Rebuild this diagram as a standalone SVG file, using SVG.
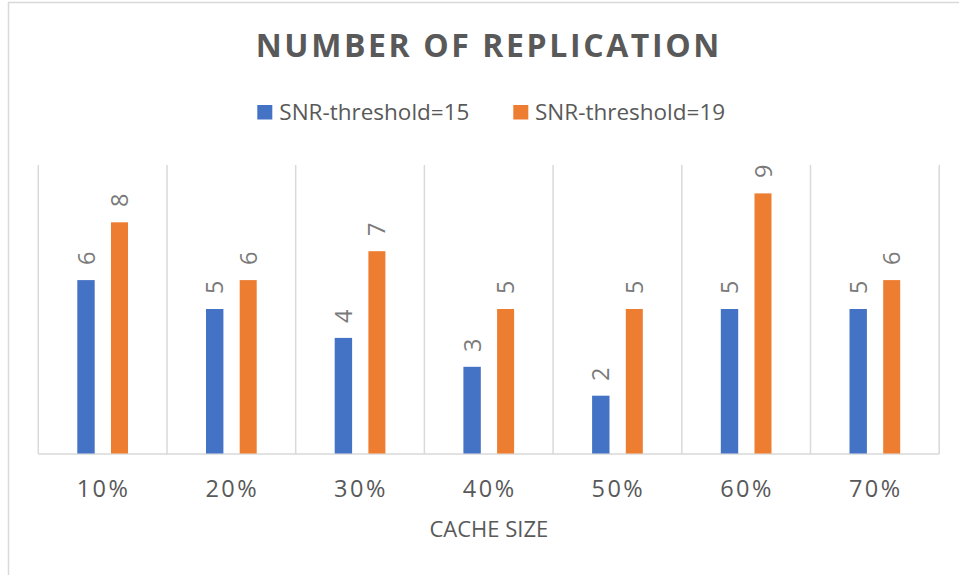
<svg xmlns="http://www.w3.org/2000/svg" width="959" height="575" viewBox="0 0 959 575">
  <style>
    .frame { fill: #ffffff; stroke: #d9d9d9; stroke-width: 1.5; }
    .grid { stroke: #d9d9d9; stroke-width: 1.5; fill: none; }
    .s15 { fill: #4472c4; }
    .s19 { fill: #ed7d31; }
    .title { font-family: "Open Sans", "Noto Sans", sans-serif; font-weight: bold; font-size: 32px; fill: #595959; letter-spacing: 2.6px; }
    .legend { font-family: "Open Sans", "Noto Sans", sans-serif; font-size: 22.5px; fill: #595959; }
    .cat { font-family: "Open Sans", "Noto Sans", sans-serif; font-size: 23.5px; fill: #595959; letter-spacing: 2.5px; }
    .axis-title { font-family: "Open Sans", "Noto Sans", sans-serif; font-size: 22px; fill: #595959; }
    .val { font-family: "Open Sans", "Noto Sans", sans-serif; font-size: 23.5px; fill: #7a7a7a; }
  </style>

  <!-- chart area -->
  <rect class="frame" x="8.5" y="2.5" width="965" height="590"/>

  <text class="title" x="488.8" y="56.7" text-anchor="middle">NUMBER OF REPLICATION</text>

  <!-- legend -->
  <g id="legend">
    <rect class="s15" x="257.3" y="105" width="15" height="14.5"/>
    <text class="legend" x="279.3" y="120">SNR-threshold=15</text>
    <rect class="s19" x="513.3" y="105" width="15" height="14.5"/>
    <text class="legend" x="535" y="120">SNR-threshold=19</text>
  </g>

  <!-- category separators and baseline -->
  <g id="gridlines">
    <path class="grid" d="M38.3 165V454 M167 165V454 M295.7 165V454 M424.4 165V454 M553.1 165V454 M681.8 165V454 M810.5 165V454 M939.2 165V454"/>
    <path class="grid" d="M38.3 454H939.2"/>
  </g>

  <!-- bars: baseline 453.5, 28.9 px per unit -->
  <g id="cat-10">
    <rect class="s15" x="77.3" y="280.1" width="17.4" height="173.4"/>
    <rect class="s19" x="111" y="222.3" width="17" height="231.2"/>
    <text class="val" transform="translate(94.5,265) rotate(-90)">6</text>
    <text class="val" transform="translate(128,207) rotate(-90)">8</text>
    <text class="cat" x="103.6" y="497.3" text-anchor="middle">10%</text>
  </g>
  <g id="cat-20">
    <rect class="s15" x="206" y="309" width="17.4" height="144.5"/>
    <rect class="s19" x="239.7" y="280.1" width="17" height="173.4"/>
    <text class="val" transform="translate(223.2,294) rotate(-90)">5</text>
    <text class="val" transform="translate(256.7,265) rotate(-90)">6</text>
    <text class="cat" x="232.3" y="497.3" text-anchor="middle">20%</text>
  </g>
  <g id="cat-30">
    <rect class="s15" x="334.7" y="337.9" width="17.4" height="115.6"/>
    <rect class="s19" x="368.4" y="251.2" width="17" height="202.3"/>
    <text class="val" transform="translate(351.9,323) rotate(-90)">4</text>
    <text class="val" transform="translate(385.4,236) rotate(-90)">7</text>
    <text class="cat" x="361" y="497.3" text-anchor="middle">30%</text>
  </g>
  <g id="cat-40">
    <rect class="s15" x="463.4" y="366.8" width="17.4" height="86.7"/>
    <rect class="s19" x="497.1" y="309" width="17" height="144.5"/>
    <text class="val" transform="translate(480.6,352) rotate(-90)">3</text>
    <text class="val" transform="translate(514.1,294) rotate(-90)">5</text>
    <text class="cat" x="489.7" y="497.3" text-anchor="middle">40%</text>
  </g>
  <g id="cat-50">
    <rect class="s15" x="592.1" y="395.7" width="17.4" height="57.8"/>
    <rect class="s19" x="625.8" y="309" width="17" height="144.5"/>
    <text class="val" transform="translate(609.3,381) rotate(-90)">2</text>
    <text class="val" transform="translate(642.8,294) rotate(-90)">5</text>
    <text class="cat" x="618.4" y="497.3" text-anchor="middle">50%</text>
  </g>
  <g id="cat-60">
    <rect class="s15" x="720.8" y="309" width="17.4" height="144.5"/>
    <rect class="s19" x="754.5" y="193.4" width="17" height="260.1"/>
    <text class="val" transform="translate(738,294) rotate(-90)">5</text>
    <text class="val" transform="translate(771.5,178) rotate(-90)">9</text>
    <text class="cat" x="747.1" y="497.3" text-anchor="middle">60%</text>
  </g>
  <g id="cat-70">
    <rect class="s15" x="849.5" y="309" width="17.4" height="144.5"/>
    <rect class="s19" x="883.2" y="280.1" width="17" height="173.4"/>
    <text class="val" transform="translate(866.7,294) rotate(-90)">5</text>
    <text class="val" transform="translate(900.2,265) rotate(-90)">6</text>
    <text class="cat" x="875.8" y="497.3" text-anchor="middle">70%</text>
  </g>

  <text class="axis-title" x="488.8" y="536.7" text-anchor="middle">CACHE SIZE</text>
</svg>
